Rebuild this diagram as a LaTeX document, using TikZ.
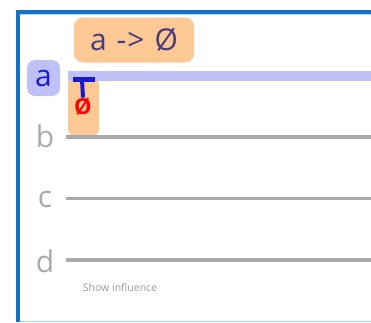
\documentclass[tikz,border=0pt]{standalone}
\usepackage{fontspec}
\setmainfont{Open Sans}
\usetikzlibrary{positioning}
\definecolor{frameblue}{HTML}{1470C8}
\definecolor{framecyan}{HTML}{A8DCF0}
\definecolor{wirepurple}{HTML}{C0C0F8}
\definecolor{wiregrey}{HTML}{AAAAAA}
\definecolor{peach}{HTML}{FCC894}
\definecolor{labelink}{HTML}{4B3B7F}
\definecolor{qubitblue}{HTML}{1A1AD0}
\definecolor{hintgrey}{HTML}{9A9A9A}
\tikzset{
  qlabel/.style={text=wiregrey,font=\fontsize{30}{30}\selectfont,inner sep=0pt},
  activelabel/.style={qlabel,text=qubitblue,fill=wirepurple,rounded corners=8pt,minimum width=33pt,minimum height=36pt},
  wire/.style={draw=wiregrey,line width=3.5pt},
  activewire/.style={draw=wirepurple,line width=10pt},
  gatebox/.style={fill=peach,rounded corners=7pt,minimum width=31pt,minimum height=59pt,inner sep=0pt},
  titlebox/.style={fill=peach,rounded corners=9pt,minimum width=120pt,minimum height=45pt,text=labelink,font=\fontsize{30}{30}\selectfont}
}

\begin{document}
\begin{tikzpicture}[x=1pt,y=-1pt]
  \useasboundingbox (0,0) rectangle (371,322);

  % frame
  \draw[framecyan,line width=1pt] (19,14.5) -- (371,14.5);
  \draw[framecyan,line width=1pt] (19,321) -- (371,321);
  \draw[frameblue,line width=4pt] (17.5,322) -- (17.5,11.5) -- (371,11.5);

  % qubit labels
  \node[activelabel] (qa) at (43.5,78) {a};
  \node[qlabel] (qb) at (45,136) {b};
  \node[qlabel] (qc) at (45,199) {c};
  \node[qlabel] (qd) at (45,261) {d};

  % wire ends
  \coordinate (a0) at (68,75.5);  \coordinate (a1) at (371,75.5);
  \coordinate (b0) at (66,137);   \coordinate (b1) at (371,137);
  \coordinate (c0) at (66,198.5); \coordinate (c1) at (371,198.5);
  \coordinate (d0) at (66,260);   \coordinate (d1) at (371,260);

  \node[gatebox] (gate) at (83.5,106.5) {};
  \draw[activewire] (a0) -- (a1);
  \draw[wire] (b0) -- (b1);
  \draw[wire] (c0) -- (c1);
  \draw[wire] (d0) -- (d1);

  % reset gate
  \node[titlebox] (title) at (134,40) {a\hspace{10pt}-\hspace{1pt}>\hspace{10pt}Ø};
  \coordinate (barl) at (73,79.5);
  \coordinate (barr) at (94.5,79.5);
  \draw[qubitblue,line width=5pt] (barl) -- (barr);
  \node[text=red,font=\fontsize{22}{22}\selectfont\bfseries,inner sep=0pt] (null) at (83,106.5) {Ø};
  \draw[qubitblue,line width=4pt] (82,79.5) -- (null.north);

  \node[text=hintgrey,font=\fontsize{10.5}{11}\selectfont] (hint) at (120,288) {Show influence};
\end{tikzpicture}
\end{document}
